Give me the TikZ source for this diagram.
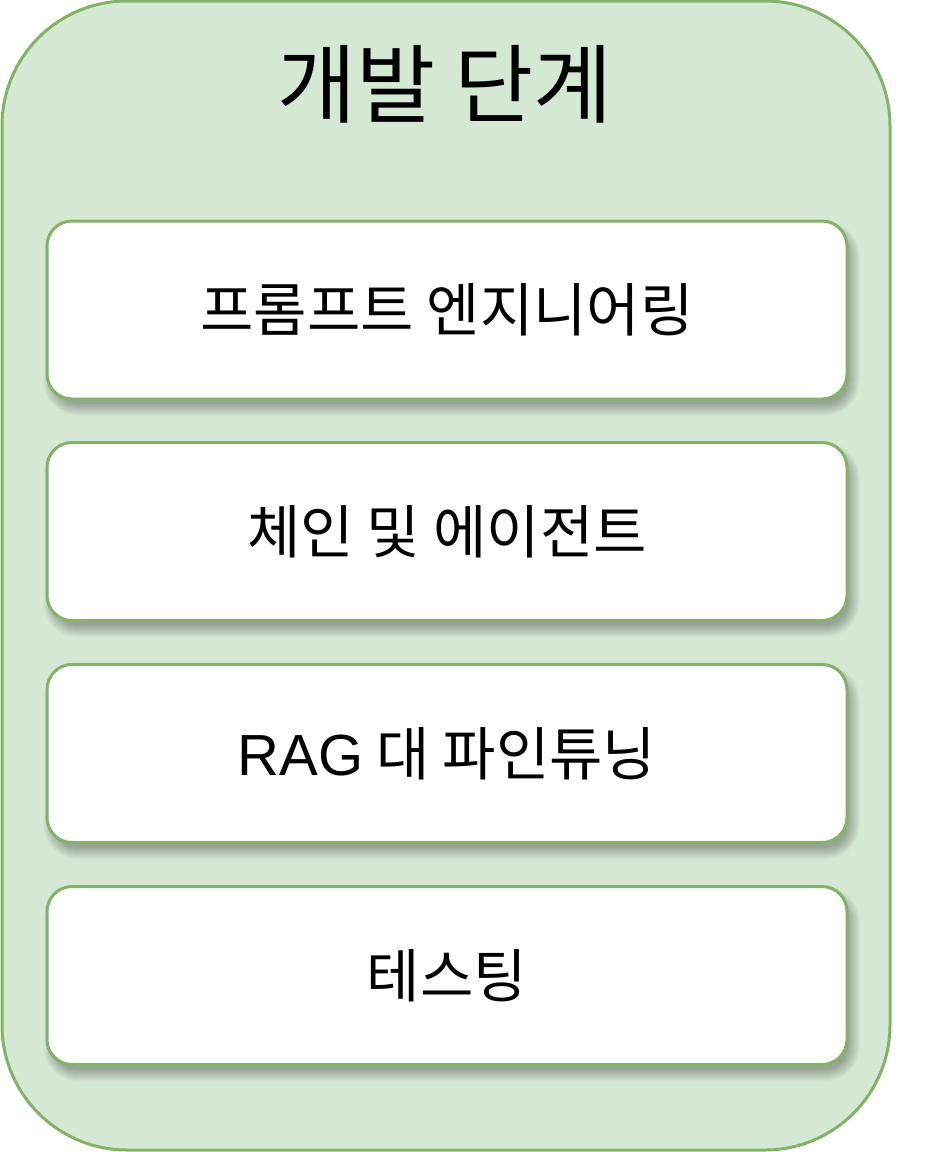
\documentclass[tikz,border=0pt]{standalone}
\usepackage{fontspec}
\setmainfont{Liberation Sans}
\newfontfamily\kr{Noto Sans CJK KR}
\usetikzlibrary{backgrounds}
\definecolor{grstroke}{HTML}{82B366}
\definecolor{grfill}{HTML}{D5E8D4}
\pgfdeclarelayer{panellayer}
\pgfdeclarelayer{shadowlayer}
\pgfsetlayers{panellayer,shadowlayer,main}
\tikzset{
  panel/.style={draw=grstroke, fill=grfill, line width=3pt, rounded corners=125pt,
    minimum width=888pt, minimum height=1149pt, inner sep=0pt},
  stepbox/.style={draw=grstroke, fill=white, line width=3pt, rounded corners=25pt,
    minimum width=800pt, minimum height=178pt, inner sep=0pt,
    font=\kr\fontsize{58}{66}\selectfont},
  titletext/.style={font=\kr\fontsize{86}{100}\selectfont, inner sep=0pt},
  shadowring/.style={fill=black, opacity=0.022}
}
\begin{document}
\begin{tikzpicture}[x=1pt,y=-1pt]
\useasboundingbox (0,0) rectangle (928,1152);
\begin{pgfonlayer}{panellayer}
\node[panel] (panel) at (446,575.5) {};
\end{pgfonlayer}
\node[titletext] (title) at (445,84) {개발 단계};
\node[stepbox] (s1) at (447,310) {프롬프트 엔지니어링};
\node[stepbox] (s2) at (447,531.5) {체인 및 에이전트};
\node[stepbox] (s3) at (447,753.5) {{\fontspec{Liberation Sans}RAG} 대 파인튜닝};
\node[stepbox] (s4) at (447,975.5) {테스팅};
\begin{pgfonlayer}{shadowlayer}
\foreach \n in {s1,s2,s3,s4}{
  \foreach \i in {0,...,12}{
    \fill[shadowring, rounded corners={22pt+\i pt}]
      ([xshift={10pt-\i pt}, yshift={-14pt+\i pt}]\n.north west) rectangle
      ([xshift={-1pt+\i pt}, yshift={-3pt-\i pt}]\n.south east);
  }
}
\end{pgfonlayer}
\end{tikzpicture}
\end{document}
